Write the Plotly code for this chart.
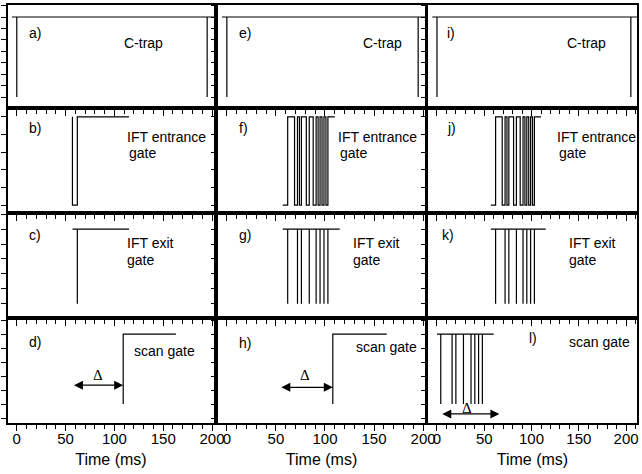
import plotly.graph_objects as go
from plotly.subplots import make_subplots

# ---------------- data (times in ms, levels 0 = low, 1 = high) ----------------
# row 1: C-trap
ctrap_span = [-5, 215]
ctrap_edges = [[0, 195], [0, 195], [0, 205]]

# row 2: IFT entrance gate (step traces, drawn with 'hv')
entr_single_t = [57, 57, 62, 115]
entr_single_v = [1, 0, 1, 1]
entr_multi_t = [57, 62, 69, 72, 74, 76, 81, 84, 88, 91, 93, 95, 97, 99, 101, 103, 110]
entr_multi_v = [0, 1, 0, 1, 0, 1, 0, 1, 0, 1, 0, 1, 0, 1, 0, 1, 1]

# row 3: IFT exit gate
exit_span = [57, 115]
exit_single_t = [62]
exit_multi_t = [62, 72, 76, 84, 91, 95, 99, 103]

# row 4: scan gate
scan_d_t = [109, 109, 163]
scan_h_t = [108, 108, 163]
scan_step_v = [0, 1, 1]
scan_l_span = [0, 60]
scan_l_t = [4, 16, 20, 28, 36, 40, 44, 48]

# delta arrows: (start, end, level) and label position
delta_arrows = [(57, 109, 0.27), (54, 108, 0.24), (4, 66, -0.14)]
delta_labels = [(83, 0.42), (80, 0.42), (32, -0.06)]

# panel letters and their positions (x ms, y level)
panel_letters = [["a)", "e)", "i)"], ["b)", "f)", "j)"], ["c)", "g)", "k)"], ["d)", "h)", "l)"]]
letter_pos = [[(10, 0.80), (10, 0.80), (8, 0.80)],
              [(10, 0.875), (10, 0.875), (8, 0.875)],
              [(10, 0.92), (10, 0.92), (3, 0.92)],
              [(10, 0.886), (10, 0.87), (95, 0.94)]]

# x ticks
x_ticks = [0, 50, 100, 150, 200]
x_title = "Time (ms)"

# ---------------- layout geometry ----------------
col_dom = [[0.0, 0.3275], [0.3339, 0.663], [0.6677, 1.0]]
row_dom = [[0.7536, 1.0], [0.5024, 0.7536], [0.2512, 0.5024], [0.0, 0.2512]]
yranges = [[-0.1375, 1.15], [-0.09, 1.10], [-0.19, 1.216], [-0.27, 1.23]]
ydticks = [1 / 7, 0.2, 0.2, 0.2]
xranges = [[-9, 202], [-9, 202], [-9.5, 211.5]]

FONT = "Liberation Sans, Arial, sans-serif"
LC = "black"
LW = 1.2

fig = make_subplots(rows=4, cols=3)


def add_line(x, y, r, c, shape="linear"):
    fig.add_trace(go.Scatter(x=x, y=y, mode="lines", line=dict(color=LC, width=LW, shape=shape),
                             hoverinfo="skip", showlegend=False), row=r, col=c)


def verticals(ts, lo=0, hi=1):
    xs, ys = [], []
    for t in ts:
        xs += [t, t, None]
        ys += [lo, hi, None]
    return xs, ys


# row 1: C-trap (all columns)
for c in (1, 2, 3):
    add_line(ctrap_span, [1, 1], 1, c)
    vx, vy = verticals(ctrap_edges[c - 1])
    add_line(vx, vy, 1, c)

# row 2: entrance gate
add_line(entr_single_t, entr_single_v, 2, 1, "hv")
add_line(entr_multi_t, entr_multi_v, 2, 2, "hv")
add_line(entr_multi_t, entr_multi_v, 2, 3, "hv")

# row 3: exit gate
add_line(exit_span, [1, 1], 3, 1)
vx, vy = verticals(exit_single_t)
add_line(vx, vy, 3, 1)
for c in (2, 3):
    add_line(exit_span, [1, 1], 3, c)
    vx, vy = verticals(exit_multi_t)
    add_line(vx, vy, 3, c)

# row 4: scan gate
add_line(scan_d_t, scan_step_v, 4, 1)
add_line(scan_h_t, scan_step_v, 4, 2)
add_line(scan_l_span, [1, 1], 4, 3)
vx, vy = verticals(scan_l_t)
add_line(vx, vy, 4, 3)

annotations = []


def ax_names(r, c):
    i = (r - 1) * 3 + c
    s = "" if i == 1 else str(i)
    return "x" + s, "y" + s


def text_ann(r, c, x, y, text, size=14, family=FONT, xanchor="left"):
    xr, yr = ax_names(r, c)
    annotations.append(dict(x=x, y=y, xref=xr, yref=yr, text=text, showarrow=False,
                            xanchor=xanchor, yanchor="middle",
                            font=dict(family=family, size=size, color="black")))


# panel letters
for r in range(4):
    for c in range(3):
        x, y = letter_pos[r][c]
        text_ann(r + 1, c + 1, x, y, panel_letters[r][c])

# panel labels
ctrap_x = [130, 159, 158]
for c in range(3):
    text_ann(1, c + 1, ctrap_x[c], 0.675, "C-trap", xanchor="center")
entr_x = [111, 111, 125]
for c in range(3):
    text_ann(2, c + 1, entr_x[c], 0.77, "IFT entrance")
    text_ann(2, c + 1, entr_x[c] + 2, 0.585, "gate")
exit_x = [111, 127, 138]
for c in range(3):
    text_ann(3, c + 1, exit_x[c], 0.82, "IFT exit")
    text_ann(3, c + 1, exit_x[c], 0.58, "gate")
scan_x = [118, 130, 138]
scan_y = [0.76, 0.81, 0.89]
for c in range(3):
    text_ann(4, c + 1, scan_x[c], scan_y[c], "scan gate")

# delta arrows
for c in range(3):
    x0, x1, lvl = delta_arrows[c]
    xr, yr = ax_names(4, c + 1)
    annotations.append(dict(x=x1, y=lvl, ax=x0, ay=lvl, xref=xr, yref=yr, axref=xr, ayref=yr,
                            text="", showarrow=True, arrowhead=2, startarrowhead=2,
                            arrowside="end+start", arrowsize=1.5, startarrowsize=1.5,
                            arrowwidth=1.2, arrowcolor="black", standoff=0, startstandoff=0))
    lx, ly = delta_labels[c]
    text_ann(4, c + 1, lx, ly, "Δ", size=15, family="Liberation Serif, Times New Roman, serif",
             xanchor="center")

fig.update_layout(annotations=annotations)

# axes
for r in range(1, 5):
    for c in range(1, 4):
        bottom = r == 4
        fig.update_xaxes(row=r, col=c, domain=col_dom[c - 1], range=xranges[c - 1],
                         tickvals=x_ticks, ticks="outside", ticklen=6, tickwidth=1.2, tickcolor="black",
                         minor=dict(dtick=10, tick0=0, ticks="outside", ticklen=4, tickwidth=1,
                                    tickcolor="black"),
                         showticklabels=bottom, showline=True, mirror=True, linecolor="black",
                         linewidth=2, showgrid=False, zeroline=False, ticklabelstandoff=-5,
                         tickfont=dict(family=FONT, size=15, color="black"),
                         title=dict(text=x_title if bottom else None,
                                    font=dict(family=FONT, size=16, color="black"), standoff=8))
        fig.update_yaxes(row=r, col=c, domain=row_dom[r - 1], range=yranges[r - 1],
                         tick0=0, dtick=ydticks[r - 1], ticks="outside", ticklen=5, tickwidth=1.2,
                         tickcolor="black", showticklabels=False, showline=True, mirror=True,
                         linecolor="black", linewidth=2, showgrid=False, zeroline=False)

fig.update_layout(width=642, height=474, margin=dict(l=8, r=5, t=5, b=51, autoexpand=False),
                  plot_bgcolor="white", paper_bgcolor="white", showlegend=False,
                  font=dict(family=FONT, color="black"))

fig.write_html("out.html", config={"displayModeBar": False},
               post_script="document.body.style.margin='0px';")
